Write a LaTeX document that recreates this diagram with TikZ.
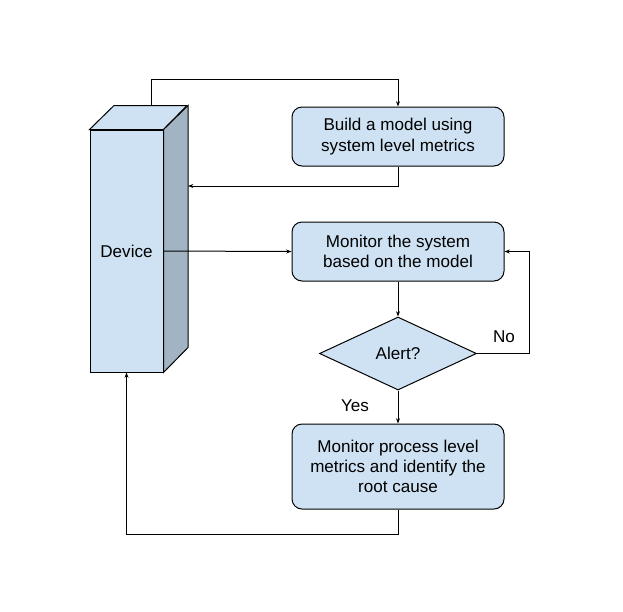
\documentclass[tikz,border=0pt]{standalone}
\usepackage{fontspec}
\setmainfont{Liberation Sans}
\usetikzlibrary{shapes.geometric, positioning, arrows.meta, calc}
\definecolor{boxfill}{HTML}{CFE2F3}
\definecolor{sidefill}{HTML}{A2B3C4}

\begin{document}
\begin{tikzpicture}[x=0.75pt,y=-0.75pt,-,line width=0.75pt,
                    font=\fontsize{12.8}{15.2}\selectfont,
                    main node/.style={rectangle,rounded corners=7.5pt,draw,fill=boxfill,minimum width=159pt,align=center,inner sep=0pt},
                    alert node/.style={diamond,draw,fill=boxfill,minimum width=117.75pt,minimum height=54.75pt,inner sep=0pt},
                    device node/.style={rectangle,draw,fill=boxfill,minimum width=54.75pt,minimum height=181.5pt,inner sep=0pt},
                    link/.style={-{Stealth[length=4pt,width=3pt]}}]

  \useasboundingbox (0,0) rectangle (623,611);

  % the device, drawn as a box
  \node[device node] (dev) at (126.5,251) {Device};
  \draw[fill=boxfill] (dev.north west) -- ++(24.5,-24) -- ++(73,0) -- (dev.north east) -- cycle;
  \draw[fill=sidefill] (dev.north east) -- ++(24.5,-24) -- ++(0,242) -- (dev.south east) -- cycle;
  \coordinate (devtop) at ($(dev.north)+(24.5,-24)$);
  \coordinate (devside) at ($(dev.east)+(24.5,-65)$);

  \node[main node,minimum height=44.25pt] (model) at (398,136.5) {Build a model using\\system level metrics};
  \node[main node,minimum height=44.25pt] (monitor) at (398,251.5) {Monitor the system\\based on the model};
  \node[alert node] (alert) at (398,353.5) {Alert?};
  \node[main node,minimum height=63.75pt] (process) at (398,466.5) {Monitor process level\\metrics and identify the\\root cause};

  \node (no) at (504,337) {No};
  \node (yes) at (355,406) {Yes};

  \draw[link] (devtop) -- ++(0,-26) -| (model.north);
  \draw[link] (model.south) |- (devside);
  \draw[link] (dev.east) -- (monitor.west);
  \draw[link] (monitor) -- (alert);
  \draw[link] (alert.east) -- ++(52,0) |- (monitor.east);
  \draw[link] (alert) -- (process);
  \draw[link] (process.south) -- ++(0,25) -| (dev.south);

\end{tikzpicture}
\end{document}
